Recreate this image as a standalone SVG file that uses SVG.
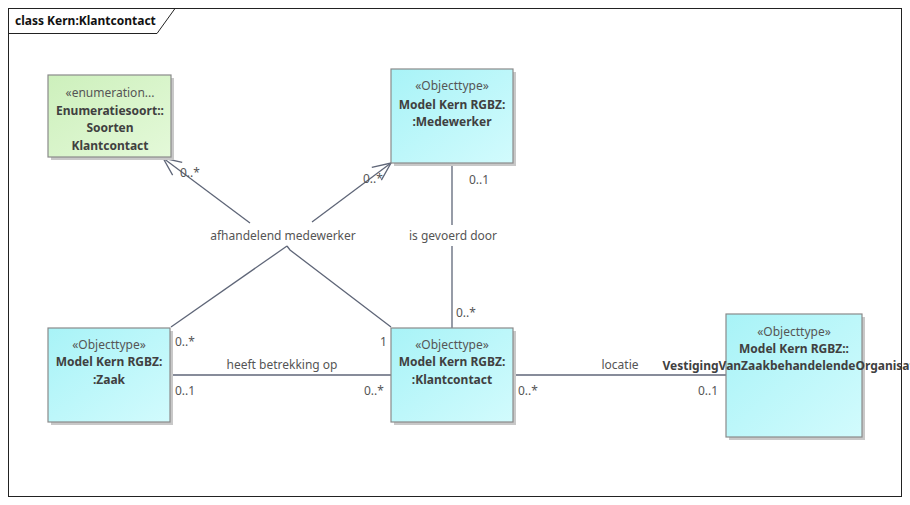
<svg xmlns="http://www.w3.org/2000/svg" width="910" height="505" viewBox="0 0 910 505">
<style>
text{font-family:"Noto Sans","Open Sans","Liberation Sans",sans-serif;font-size:12px;fill:#555}
.b{font-weight:bold;fill:#404040}
.st{fill:#555}
.c{text-anchor:middle}
.ln{stroke:#5f6678;stroke-width:1.3;fill:none}
.box{stroke:#8a8a8a;stroke-width:1.2}
.sh{fill:#c8c8c8}
.t{font-weight:bold;fill:#111}
</style>
<defs>
<linearGradient id="gc" x1="0" y1="0" x2="1" y2="1">
<stop offset="0" stop-color="#a8f3f7"/>
<stop offset="1" stop-color="#d2fbfd"/>
</linearGradient>
<linearGradient id="gg" x1="0" y1="0" x2="1" y2="1">
<stop offset="0" stop-color="#cdf0bc"/>
<stop offset="1" stop-color="#e4f9d9"/>
</linearGradient>
<marker id="oa" viewBox="0 0 20 20" refX="19" refY="10" markerWidth="20" markerHeight="20" markerUnits="userSpaceOnUse" orient="auto">
<path d="M1,2 L19,10 L1,18" fill="none" stroke="#5f6678" stroke-width="1.3"/>
</marker>
</defs>
<rect x="0" y="0" width="910" height="505" fill="#fff"/>
<g id="frame">
<rect x="8.5" y="8.5" width="893" height="488" fill="none" stroke="#222" stroke-width="1"/>
<path d="M8.5,33.5 H157 L175,8.5" fill="none" stroke="#222" stroke-width="1"/>
<text class="t" x="15" y="25">class Kern:Klantcontact</text>
</g>
<g id="connectors">
<polyline class="ln" points="171,327 287,246"/>
<polyline class="ln" points="287,246 290,250 391,327"/>
<line class="ln" x1="250" y1="223" x2="163" y2="158" marker-end="url(#oa)"/>
<line class="ln" x1="312" y1="222" x2="391" y2="163" marker-end="url(#oa)"/>
<line class="ln" x1="452" y1="163" x2="452" y2="225"/>
<line class="ln" x1="452" y1="246" x2="452" y2="328"/>
<line class="ln" x1="170" y1="375" x2="391" y2="375"/>
<line class="ln" x1="513" y1="375" x2="726" y2="375"/>
<text class="c" x="283" y="240">afhandelend medewerker</text>
<text class="c" x="453" y="240">is gevoerd door</text>
<text class="c" x="282" y="369">heeft betrekking op</text>
<text class="c" x="620" y="369">locatie</text>
<text x="180" y="177">0..*</text>
<text x="363" y="183">0..*</text>
<text x="469" y="184">0..1</text>
<text x="456" y="317">0..*</text>
<text x="175" y="346">0..*</text>
<text x="380" y="346">1</text>
<text x="175" y="395">0..1</text>
<text x="364" y="395">0..*</text>
<text x="518" y="395">0..*</text>
<text x="698" y="395">0..1</text>
</g>
<g id="enum">
<rect class="sh" x="51" y="78" width="123" height="82"/>
<rect class="box" x="48" y="75" width="123" height="82" fill="url(#gg)"/>
<text class="c st" x="110" y="97">«enumeration...</text>
<text class="c b" x="110" y="115">Enumeratiesoort::</text>
<text class="c b" x="110" y="132">Soorten</text>
<text class="c b" x="110" y="150">Klantcontact</text>
</g>
<g id="medewerker">
<rect class="sh" x="394" y="72" width="122" height="94"/>
<rect class="box" x="391" y="69" width="122" height="94" fill="url(#gc)"/>
<text class="c st" x="452" y="90">«Objecttype»</text>
<text class="c b" x="452" y="109">Model Kern RGBZ:</text>
<text class="c b" x="452" y="126">:Medewerker</text>
</g>
<g id="zaak">
<rect class="sh" x="51" y="331" width="122" height="94"/>
<rect class="box" x="48" y="328" width="122" height="94" fill="url(#gc)"/>
<text class="c st" x="109" y="349">«Objecttype»</text>
<text class="c b" x="109" y="366">Model Kern RGBZ:</text>
<text class="c b" x="109" y="384">:Zaak</text>
</g>
<g id="klantcontact">
<rect class="sh" x="394" y="331" width="122" height="94"/>
<rect class="box" x="391" y="328" width="122" height="94" fill="url(#gc)"/>
<text class="c st" x="452" y="349">«Objecttype»</text>
<text class="c b" x="452" y="366">Model Kern RGBZ:</text>
<text class="c b" x="452" y="384">:Klantcontact</text>
</g>
<g id="vestiging">
<rect class="sh" x="729" y="317" width="136" height="123"/>
<rect class="box" x="726" y="314" width="136" height="123" fill="url(#gc)"/>
<text class="c st" x="794" y="336">«Objecttype»</text>
<text class="c b" x="794" y="353">Model Kern RGBZ::</text>
<text class="c b" x="794" y="370">VestigingVanZaakbehandelendeOrganisatie</text>
</g>
</svg>
